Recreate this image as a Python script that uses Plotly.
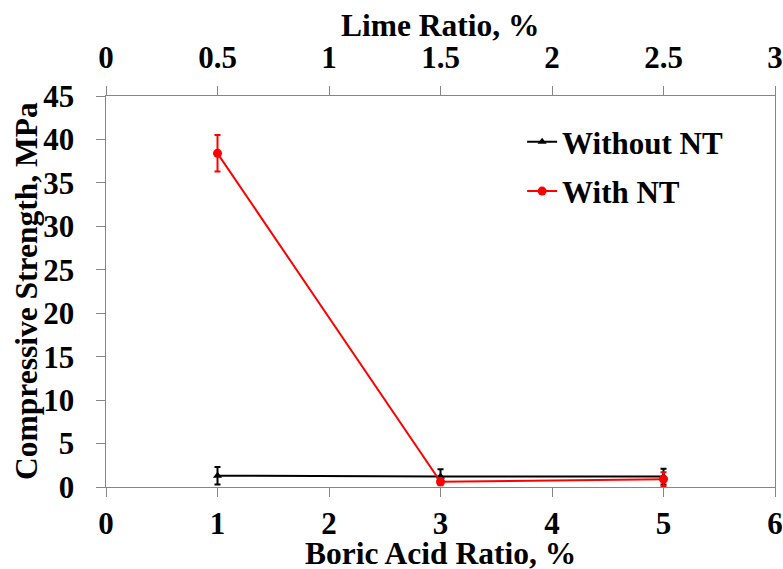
import plotly.graph_objects as go

boric = [1, 3, 5]
without_nt = [1.3, 1.2, 1.2]
without_err = [1.0, 0.85, 0.9]
with_nt = [38.4, 0.6, 0.9]
with_err = [2.1, 0.4, 0.8]

x_ticks = [0, 1, 2, 3, 4, 5, 6]
lime_ticks = [0, 0.5, 1, 1.5, 2, 2.5, 3]
lime_labels = ["0", "0.5", "1", "1.5", "2", "2.5", "3"]
y_ticks = [0, 5, 10, 15, 20, 25, 30, 35, 40, 45]

FONT = "Liberation Serif"
fs = 31
tfs = 31.5
PAD = "\u00a0\u00a0"

fig = go.Figure()
fig.add_trace(go.Scatter(
    x=boric, y=without_nt, name="<b>Without NT</b>", mode="lines+markers",
    legendgroup="a",
    line=dict(color="black", width=2),
    marker=dict(symbol="triangle-up", size=8, color="black"),
    error_y=dict(type="data", array=without_err, color="black", thickness=2, width=3),
))
fig.add_trace(go.Scatter(
    x=boric, y=with_nt, name="<b>With NT</b>", mode="lines+markers",
    legendgroup="b",
    line=dict(color="#ff0000", width=2),
    marker=dict(symbol="circle", size=9, color="#ff0000"),
    error_y=dict(type="data", array=with_err, color="#ff0000", thickness=2, width=3),
))
# invisible trace to activate the top axis
fig.add_trace(go.Scatter(x=[lime_ticks[0], lime_ticks[-1]], y=[0, 0], xaxis="x2",
                         mode="markers", marker=dict(opacity=0), showlegend=False,
                         hoverinfo="skip"))

axis_col = "#868686"
fig.update_layout(
    width=783, height=569,
    margin=dict(l=105.5, r=8, t=96, b=81.5, autoexpand=False),
    plot_bgcolor="white", paper_bgcolor="white",
    font=dict(family=FONT, size=fs, color="black"),
    showlegend=True,
    legend=dict(x=0.622, y=0.951, xanchor="left", yanchor="top",
                bgcolor="rgba(0,0,0,0)", font=dict(size=fs, family=FONT),
                itemwidth=30, tracegroupgap=6),
    xaxis=dict(range=[0, 6], tickvals=x_ticks, ticktext=["<b>%d</b>" % v for v in x_ticks],
               ticks="outside", ticklen=9, automargin=False,
               tickcolor=axis_col, showline=True, linecolor=axis_col, linewidth=1,
               showgrid=False, zeroline=False,
               tickfont=dict(size=fs, family=FONT), ticklabelstandoff=0),
    xaxis2=dict(range=[0, 3], tickvals=lime_ticks, ticktext=["<b>%s</b>" % t for t in lime_labels],
                overlaying="x", side="top", ticks="outside", ticklen=9, automargin=False,
                tickcolor=axis_col, showline=True, linecolor=axis_col, linewidth=1,
                showgrid=False, zeroline=False, ticklabelstandoff=6,
                tickfont=dict(size=fs, family=FONT)),
    yaxis=dict(range=[0, 45], tickvals=y_ticks, ticktext=["<b>%d%s</b>" % (v, PAD) for v in y_ticks],
               ticks="outside", ticklen=9, automargin=False,
               tickcolor=axis_col, showline=True, linecolor=axis_col, linewidth=1,
               mirror=True, showgrid=False, zeroline=False,
               tickfont=dict(size=fs, family=FONT)),
    annotations=[
        dict(text="<b>Lime Ratio, %</b>", xref="paper", yref="paper", x=0.5, y=1,
             xanchor="center", yanchor="middle", yshift=71, showarrow=False,
             font=dict(size=tfs, family=FONT)),
        dict(text="<b>Boric Acid Ratio, %</b>", xref="paper", yref="paper", x=0.5, y=0,
             xanchor="center", yanchor="middle", yshift=-66, showarrow=False,
             font=dict(size=tfs, family=FONT)),
        dict(text="<b>Compressive Strength, MPa</b>", xref="paper", yref="paper", x=0, y=0.5,
             xanchor="center", yanchor="middle", xshift=-79.5, textangle=-90, showarrow=False,
             font=dict(size=tfs, family=FONT)),
    ],
)

fig.write_html(
    "out.html",
    config={"displayModeBar": False},
    post_script="document.body.style.margin='0';document.body.style.overflow='hidden';",
)
